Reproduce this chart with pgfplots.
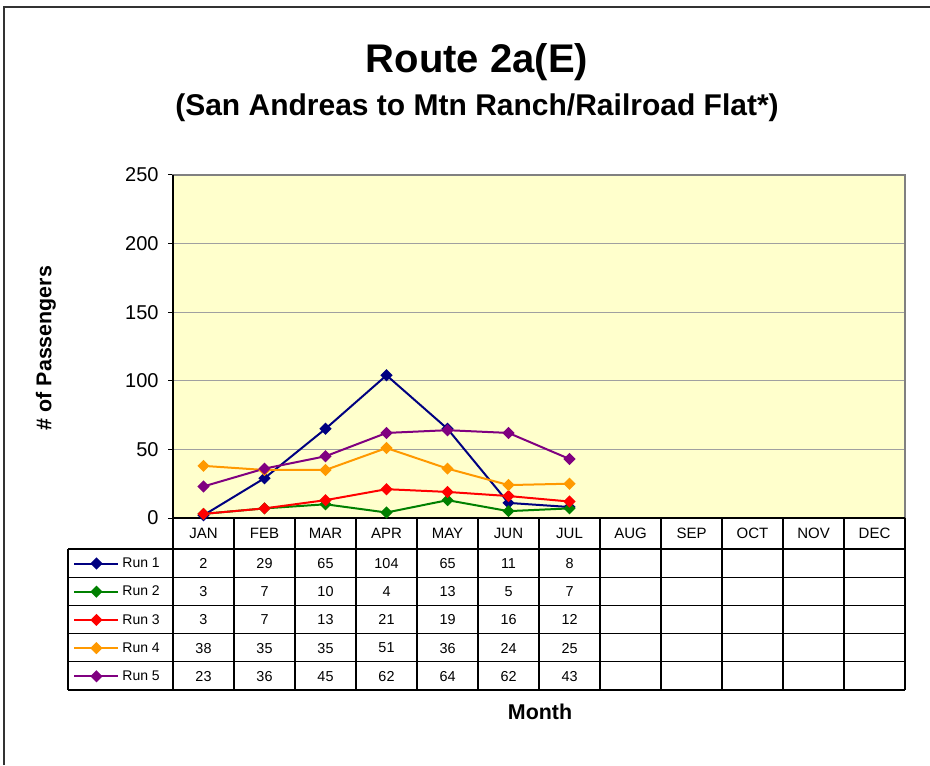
\documentclass[border=0pt]{standalone}
\usepackage{fontspec}
\setmainfont{Liberation Sans}
\usepackage{pgfplots}
\pgfplotsset{compat=1.18}
\definecolor{bgyellow}{HTML}{FFFFCC}
\definecolor{runA}{HTML}{000080}
\definecolor{runB}{HTML}{008000}
\definecolor{runC}{HTML}{FF0000}
\definecolor{runD}{HTML}{FF9900}
\definecolor{runE}{HTML}{800080}
\definecolor{gridc}{HTML}{A0A0A0}
\definecolor{framec}{HTML}{808080}
\begin{document}
\begin{tikzpicture}
\useasboundingbox (0,0) rectangle (465pt,382.5pt);
\begin{axis}[
  at={(86.5pt,123.5pt)}, anchor=south west,
  scale only axis, width=366pt, height=171.5pt,
  xmin=-0.5, xmax=11.5, ymin=0, ymax=250,
  ytick={0,50,100,150,200,250}, xtick=\empty,
  ytick pos=left, tick align=outside, major tick length=2.5pt,
  tick style={black, line width=0.5pt},
  ymajorgrids, grid style={gridc, line width=0.6pt},
  axis background/.style={fill=bgyellow},
  axis line style={draw=framec, line width=1pt},
  clip=false,
  /pgf/number format/assume math mode=true,
  yticklabel style={font=\fontsize{10}{12}\selectfont, inner xsep=4.5pt},
  legend style={at={(-0.1434,-0.0904)}, anchor=north west, draw=none, fill=none,
    inner xsep=2.5pt, inner ysep=0pt, row sep=0pt,
    font=\fontsize{7}{8}\selectfont,
    nodes={inner ysep=0pt, inner xsep=1.5pt, text height=9.1pt, text depth=5pt}},
  legend image code/.code={\draw[mark repeat=2,mark phase=2] plot coordinates {(0pt,0pt)(11pt,0pt)(22pt,0pt)};},
  every axis plot/.append style={line width=1pt, mark=square*, mark size=1.65pt, mark options={solid, rotate=45}},
]
\addplot[color=runA] coordinates {(0,2)(1,29)(2,65)(3,104)(4,65)(5,11)(6,8)};
\addlegendentry{Run 1}
\addplot[color=runB] coordinates {(0,3)(1,7)(2,10)(3,4)(4,13)(5,5)(6,7)};
\addlegendentry{Run 2}
\addplot[color=runC] coordinates {(0,3)(1,7)(2,13)(3,21)(4,19)(5,16)(6,12)};
\addlegendentry{Run 3}
\addplot[color=runD] coordinates {(0,38)(1,35)(2,35)(3,51)(4,36)(5,24)(6,25)};
\addlegendentry{Run 4}
\addplot[color=runE] coordinates {(0,23)(1,36)(2,45)(3,62)(4,64)(5,62)(6,43)};
\addlegendentry{Run 5}
\draw[black, line width=1pt] (rel axis cs:0,1) -- (rel axis cs:0,0) -- (rel axis cs:1,0);
\end{axis}
\begin{scope}[x=0.5pt, y=-0.5pt, yshift=382.5pt]
  % outer chart border (left and top)
  \draw[black!80, line width=0.6pt] (4,765) -- (4,7) -- (930,7);
  % table grid
  \foreach \k in {0,...,12} \draw[black, line width=0.6pt] ({173+61*\k},518) -- ({173+61*\k},690);
  \foreach \yy in {549,577.2,605.4,633.6,661.8,690} \draw[black, line width=0.6pt] (68,\yy) -- (905,\yy);
  \draw[black, line width=0.6pt] (68,549) -- (68,690);
  % month header
  \foreach \m [count=\i from 0] in {JAN,FEB,MAR,APR,MAY,JUN,JUL,AUG,SEP,OCT,NOV,DEC}
    \node[font=\fontsize{7.5}{9}\selectfont] at ({203.5+61*\i},533.5) {\m};
  % values
  \foreach \v [count=\i from 0] in {2,29,65,104,65,11,8}
    \node[font=\fontsize{7.2}{9}\selectfont] at ({203.5+61*\i},563.5) {\v};
  \foreach \v [count=\i from 0] in {3,7,10,4,13,5,7}
    \node[font=\fontsize{7.2}{9}\selectfont] at ({203.5+61*\i},591.7) {\v};
  \foreach \v [count=\i from 0] in {3,7,13,21,19,16,12}
    \node[font=\fontsize{7.2}{9}\selectfont] at ({203.5+61*\i},619.9) {\v};
  \foreach \v [count=\i from 0] in {38,35,35,51,36,24,25}
    \node[font=\fontsize{7.2}{9}\selectfont] at ({203.5+61*\i},648.1) {\v};
  \foreach \v [count=\i from 0] in {23,36,45,62,64,62,43}
    \node[font=\fontsize{7.2}{9}\selectfont] at ({203.5+61*\i},676.3) {\v};
  % titles
  \node[font=\bfseries\fontsize{20}{24}\selectfont] at (477,62) {Route 2a(E)};
  \node[font=\bfseries\fontsize{15}{18}\selectfont] at (477,108) {(San Andreas to Mtn Ranch/Railroad Flat*)};
  \node[font=\bfseries\fontsize{10.7}{13}\selectfont, rotate=90] at (46,348) {\# of Passengers};
  \node[font=\bfseries\fontsize{10.7}{13}\selectfont] at (540,712) {Month};
\end{scope}
\end{tikzpicture}
\end{document}
